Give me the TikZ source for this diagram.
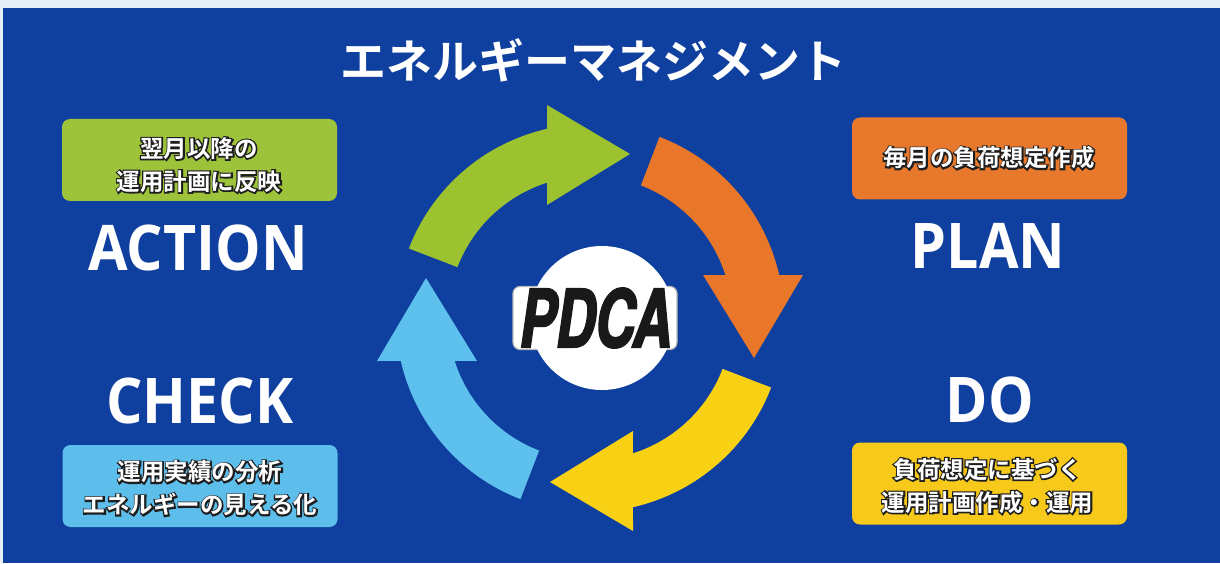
\documentclass[tikz,border=0pt]{standalone}
\usepackage{fontspec}
\setmainfont{Open Sans}
\newfontfamily\bigf{Open Sans}[FakeStretch=0.91]
\newfontfamily\jp{Noto Sans CJK JP}[BoldFont={Noto Sans CJK JP Bold}]
\newfontfamily\jpo{Noto Sans CJK JP}[BoldFont={Noto Sans CJK JP Bold}, BoldFeatures={FakeBold=12}]
\newfontfamily\pdcaf{TeX Gyre Heros}[FakeStretch=0.68, FakeBold=2.2]
\usetikzlibrary{calc}
\definecolor{bgblue}{HTML}{0F3F9F}
\definecolor{topband}{HTML}{E6EEF8}
\definecolor{agreen}{HTML}{9DC230}
\definecolor{aorange}{HTML}{E8772A}
\definecolor{ayellow}{HTML}{F8D115}
\definecolor{ablue}{HTML}{5EC0EC}
\definecolor{bgreen}{HTML}{9CC33A}
\definecolor{borange}{HTML}{E8782C}
\definecolor{byellow}{HTML}{F6C91A}
\definecolor{bblue}{HTML}{5DBDEB}
\definecolor{outl}{HTML}{1E1E1E}
\newcommand\otext[3]{%
  \node[boxtext,font=\jpo\bfseries\fontsize{23.5}{33}\selectfont,text=outl] at (#2) {#3};
  \node[boxtext,text=white] (#1) at (#2) {#3};
}
\begin{document}
\begin{tikzpicture}[x=1pt,y=1pt,
  box/.style={rounded corners=8pt, minimum width=275pt, minimum height=82pt, inner sep=0pt},
  boxtext/.style={font=\jp\bfseries\fontsize{23.5}{33}\selectfont, align=center, inner sep=0pt},
  big/.style={font=\bigf\bfseries\fontsize{63}{63}\selectfont, text=white, inner sep=0pt},
  title/.style={font=\jp\bfseries\fontsize{46}{46}\selectfont, text=white, inner sep=0pt}]
\useasboundingbox (0,0) rectangle (1220,563);
\fill[topband] (0,0) rectangle (1220,563);
\fill[bgblue] (3,0) rectangle (1220,555);

\node[title] (title) at (593,503) {エネルギーマネジメント};

% ring arrows
\foreach \rot/\col in {0/agreen,-90/aorange,-180/ayellow,-270/ablue}{
  \begin{scope}[shift={(590,245)}, rotate=\rot]
    \fill[\col] (159:194pt) arc[start angle=159, end angle=102.8, radius=194pt]
      -- (-43,213) -- (40,164) -- (-43,113) -- (107.6:142pt)
      arc[start angle=107.6, end angle=159, radius=142pt] -- cycle;
  \end{scope}
}

% PDCA centre
\node[fill=white, draw=gray!55, line width=1.2pt, rounded corners=7pt,
      minimum width=164pt, minimum height=63pt, inner sep=0pt] (pdcarect) at (595,245) {};
\node[circle, fill=white, minimum size=144pt, inner sep=0pt] (pdcacircle) at (602,245) {};
\node[font=\pdcaf\bfseries\itshape\fontsize{80}{80}\selectfont, text=black!90, inner sep=0pt] (pdca) at (596,245) {PDCA};

% boxes
\node[box, fill=bgreen] (gbox) at (199.5,403) {};
\node[box, fill=bblue] (bbox) at (200,77) {};
\node[box, fill=borange] (obox) at (989.5,404.5) {};
\node[box, fill=byellow] (ybox) at (989.5,79.5) {};

\otext{gtxt}{199,398}{翌月以降の\\運用計画に反映}
\otext{btxt}{200,74.5}{運用実績の分析\\エネルギーの見える化}
\otext{otxt}{989,405}{毎月の負荷想定作成}
\otext{ytxt}{987.5,77}{負荷想定に基づく\\運用計画作成・運用}

% big labels
\node[big] (action) at (198,315) {ACTION};
\node[big] (plan) at (988,317) {PLAN};
\node[big] (check) at (200,162) {CHECK};
\node[big] (do) at (990,163) {DO};
\end{tikzpicture}
\end{document}
